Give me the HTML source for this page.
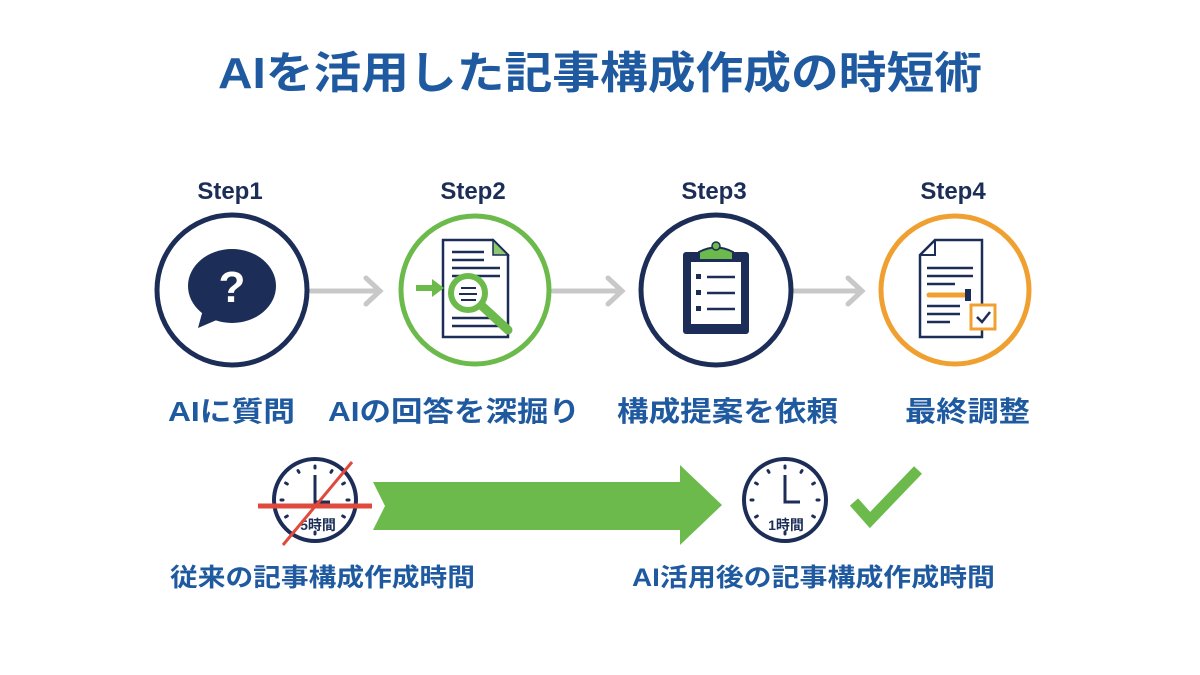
<!DOCTYPE html>
<html><head><meta charset="utf-8"><style>
html,body{margin:0;padding:0;background:#fff;}
svg{display:block}
text{font-family:"Liberation Sans","Noto Sans CJK JP",sans-serif;font-weight:bold}
</style></head><body>
<svg width="1200" height="675" viewBox="0 0 1200 675">
<defs>
<g id="ticks" stroke="#1c2d57" stroke-width="3" stroke-linecap="round">
<line x1="0" y1="-34" x2="0" y2="-32"/><line x1="0" y1="34" x2="0" y2="32"/>
<line x1="-34" y1="0" x2="-32" y2="0"/><line x1="34" y1="0" x2="32" y2="0"/>
<line x1="17" y1="-29.4" x2="16" y2="-27.7"/><line x1="29.4" y1="-17" x2="27.7" y2="-16"/>
<line x1="29.4" y1="17" x2="27.7" y2="16"/><line x1="-17" y1="-29.4" x2="-16" y2="-27.7"/>
<line x1="-29.4" y1="-17" x2="-27.7" y2="-16"/><line x1="-29.4" y1="17" x2="-27.7" y2="16"/>
</g>
</defs>
<rect width="1200" height="675" fill="#fff"/>
<text x="600" y="88" text-anchor="middle" font-size="44" fill="#1f5aa0" textLength="764" lengthAdjust="spacingAndGlyphs">AIを活用した記事構成作成の時短術</text>

<g font-size="24" fill="#1c2d57" text-anchor="middle">
<text x="230" y="199">Step1</text><text x="473" y="199">Step2</text>
<text x="714" y="199">Step3</text><text x="953" y="199">Step4</text>
</g>

<g stroke="#c8c8c8" stroke-width="5" fill="none" stroke-linecap="round">
<line x1="311" y1="291" x2="378" y2="291"/><polyline points="366,278 380,291 366,304"/>
<line x1="553" y1="291" x2="620" y2="291"/><polyline points="608,278 622,291 608,304"/>
<line x1="793" y1="291" x2="860" y2="291"/><polyline points="848,278 862,291 848,304"/>
</g>

<circle cx="232" cy="290" r="75" fill="#fff" stroke="#1c2d57" stroke-width="5"/>
<circle cx="475" cy="290" r="74" fill="#fff" stroke="#6cba4c" stroke-width="5"/>
<circle cx="716" cy="290" r="75" fill="#fff" stroke="#1c2d57" stroke-width="5"/>
<circle cx="955" cy="290" r="74" fill="#fff" stroke="#f0a030" stroke-width="5"/>

<ellipse cx="232" cy="286" rx="44" ry="37" fill="#1c2d57"/>
<polygon points="204,306 198,328 226,316" fill="#1c2d57"/>
<text x="232" y="302" text-anchor="middle" font-size="44" fill="#fff">?</text>

<path d="M443,240 H493 L508,255 V337 H443 Z" stroke="#1c2d57" stroke-width="2.5" fill="#fff"/>
<path d="M493,240 V255 H508 Z" fill="#8cc870" stroke="#1c2d57" stroke-width="1.5"/>
<g stroke="#1c2d57" stroke-width="2.5">
<line x1="452" y1="252" x2="484" y2="252"/><line x1="452" y1="260" x2="484" y2="260"/>
<line x1="452" y1="268" x2="500" y2="268"/><line x1="452" y1="276" x2="500" y2="276"/>
<line x1="452" y1="318" x2="500" y2="318"/><line x1="452" y1="326" x2="500" y2="326"/>
</g>
<line x1="482" y1="306" x2="508" y2="330" stroke="#6cba4c" stroke-width="9" stroke-linecap="round"/>
<circle cx="468" cy="293" r="17" fill="#fff" stroke="#6cba4c" stroke-width="6"/>
<g stroke="#1c2d57" stroke-width="2"><line x1="461" y1="288" x2="476" y2="288"/><line x1="459" y1="294" x2="477" y2="294"/><line x1="461" y1="300" x2="476" y2="300"/></g>
<line x1="416" y1="288" x2="434" y2="288" stroke="#6cba4c" stroke-width="6"/>
<polygon points="432,279 444,288 432,297" fill="#6cba4c"/>

<rect x="683" y="252" width="66" height="82" rx="3" fill="#1c2d57"/>
<rect x="691" y="262" width="50" height="62" fill="#fff"/>
<path d="M699,260 V252 Q716,243 733,252 V260 Z" fill="#6cba4c" stroke="#1c2d57" stroke-width="2"/>
<circle cx="716" cy="246" r="4" fill="#6cba4c" stroke="#1c2d57" stroke-width="1.5"/>
<g fill="#1c2d57"><rect x="696" y="274" width="5" height="5"/><rect x="696" y="290" width="5" height="5"/><rect x="696" y="306" width="5" height="5"/></g>
<g stroke="#1c2d57" stroke-width="2.5"><line x1="707" y1="277" x2="735" y2="277"/><line x1="707" y1="293" x2="735" y2="293"/><line x1="707" y1="309" x2="735" y2="309"/></g>

<path d="M935,240 H982 V337 H920 V255 Z" fill="#fff" stroke="#1c2d57" stroke-width="2.5"/>
<path d="M935,240 V255 H920" fill="none" stroke="#1c2d57" stroke-width="2"/>
<g stroke="#1c2d57" stroke-width="2.5">
<line x1="927" y1="268" x2="973" y2="268"/><line x1="927" y1="276" x2="973" y2="276"/><line x1="927" y1="284" x2="955" y2="284"/>
<line x1="927" y1="306" x2="960" y2="306"/><line x1="927" y1="314" x2="960" y2="314"/><line x1="927" y1="322" x2="950" y2="322"/>
</g>
<line x1="929" y1="295" x2="965" y2="295" stroke="#f0a030" stroke-width="5" stroke-linecap="round"/>
<rect x="965" y="289" width="6" height="12" fill="#1c2d57"/>
<rect x="971" y="305" width="24" height="24" fill="#fff" stroke="#f0a030" stroke-width="3"/>
<polyline points="977,317 982,322 990,312" fill="none" stroke="#1c2d57" stroke-width="2.5"/>

<g font-size="28" fill="#1f5aa0">
<text x="168" y="421" textLength="127" lengthAdjust="spacingAndGlyphs">AIに質問</text>
<text x="328" y="421" textLength="252" lengthAdjust="spacingAndGlyphs">AIの回答を深掘り</text>
<text x="617" y="421" textLength="221" lengthAdjust="spacingAndGlyphs">構成提案を依頼</text>
<text x="905" y="421" textLength="125" lengthAdjust="spacingAndGlyphs">最終調整</text>
</g>

<g>
<circle cx="315" cy="500" r="41" fill="#fff" stroke="#1c2d57" stroke-width="4"/>
<use href="#ticks" transform="translate(315,500)"/>
<polyline points="315,475 315,502 330,502" fill="none" stroke="#1c2d57" stroke-width="3"/>
<text x="318" y="530" text-anchor="middle" font-size="14" fill="#1c2d57">5時間</text>
<line x1="258" y1="506" x2="372" y2="506" stroke="#e04a3c" stroke-width="5"/>
<line x1="283" y1="545" x2="352" y2="462" stroke="#e04a3c" stroke-width="3"/>
</g>
<polygon points="373,482 680,482 680,465 722,505 680,545 680,530 373,530 385,506" fill="#6cba4c"/>
<g>
<circle cx="785" cy="500" r="41" fill="#fff" stroke="#1c2d57" stroke-width="4"/>
<use href="#ticks" transform="translate(785,500)"/>
<polyline points="785,475 785,502 800,502" fill="none" stroke="#1c2d57" stroke-width="3"/>
<text x="786" y="530" text-anchor="middle" font-size="14" fill="#1c2d57">1時間</text>
</g>
<polyline points="854,502 870,520 918,470" fill="none" stroke="#6cba4c" stroke-width="11"/>

<g font-size="25" fill="#1f5aa0">
<text x="170" y="586" textLength="305" lengthAdjust="spacingAndGlyphs">従来の記事構成作成時間</text>
<text x="632" y="586" textLength="363" lengthAdjust="spacingAndGlyphs">AI活用後の記事構成作成時間</text>
</g>
</svg>
</body></html>
